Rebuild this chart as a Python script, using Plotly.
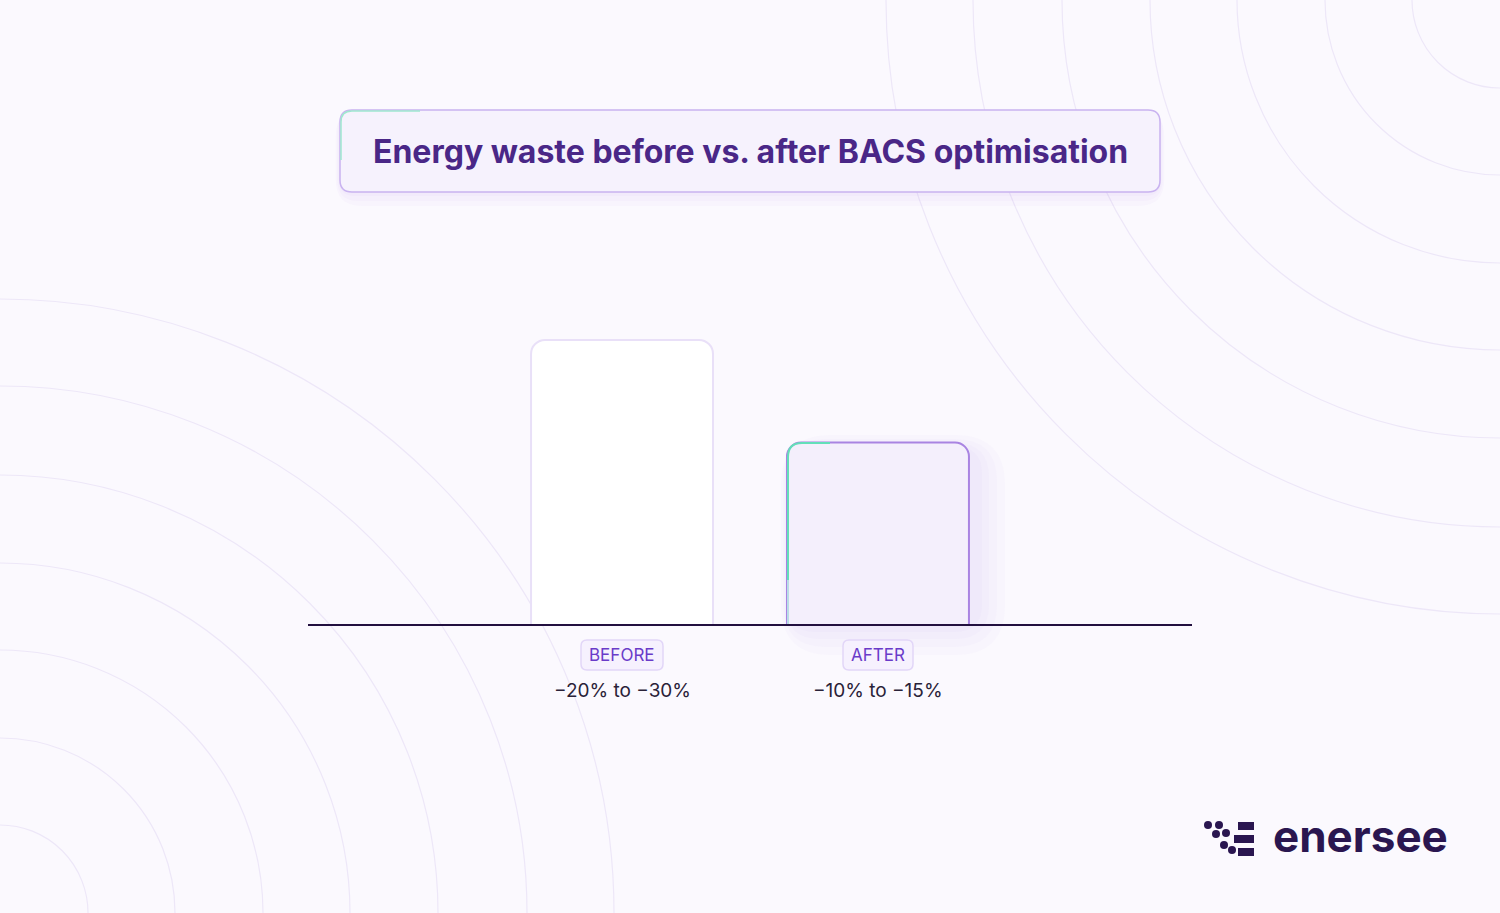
import plotly.graph_objects as go

categories = ["BEFORE", "AFTER"]
waste_index = [100, 64]
ranges = ["\u221220% to \u221230%", "\u221210% to \u221215%"]
title = "Energy waste before vs. after BACS optimisation"

W, H = 1500, 913
L, R, T, B = 308, 1192, 300, 625

def px(x): return (x - L) / (R - L)
def py(y): return (B - y) / (B - T)

fig = go.Figure()
fig.add_bar(x=[0, 1], y=waste_index, width=0.711,
            marker=dict(color=["#ffffff", "#f4effc"],
                        line=dict(color=["#e9e0f8", "#a984e2"], width=2),
                        cornerradius=14),
            hoverinfo="skip")

def rrect(x0, y0, x1, y1, r):
    X = lambda v: px(v); Y = lambda v: py(v)
    return (f"M {X(x0+r)},{Y(y0)} L {X(x1-r)},{Y(y0)} Q {X(x1)},{Y(y0)} {X(x1)},{Y(y0+r)} "
            f"L {X(x1)},{Y(y1-r)} Q {X(x1)},{Y(y1)} {X(x1-r)},{Y(y1)} L {X(x0+r)},{Y(y1)} "
            f"Q {X(x0)},{Y(y1)} {X(x0)},{Y(y1-r)} L {X(x0)},{Y(y0+r)} Q {X(x0)},{Y(y0)} {X(x0+r)},{Y(y0)} Z")

shapes = []
circ = "#ede7f8"
for r in [88, 175, 263, 350, 438, 527, 614]:
    for cx, cy in [(0, 913), (1500, 0)]:
        shapes.append(dict(type="circle", xref="paper", yref="paper",
                           x0=px(cx - r), x1=px(cx + r), y0=py(cy + r), y1=py(cy - r),
                           line=dict(color=circ, width=1.2), layer="below"))
for g in [30, 22, 14, 7]:
    shapes.append(dict(type="path", xref="paper", yref="paper",
                       path=rrect(790 - g * 0.3, 450 - g * 0.5, 975 + g, 625 + g, 20 + g),
                       fillcolor="rgba(175,130,235,0.035)", line=dict(width=0), layer="below"))
shapes.append(dict(type="line", xref="paper", yref="paper", x0=0, x1=1, y0=0, y1=0,
                   line=dict(color="#22103f", width=2)))
# teal accent on after bar left edge
X, Y = px, py
shapes.append(dict(type="path", xref="paper", yref="paper",
                   path=f"M {X(788)},{Y(580)} L {X(788)},{Y(457)} Q {X(788)},{Y(443)} {X(802)},{Y(443)} L {X(830)},{Y(443)}",
                   line=dict(color="#63dfb9", width=2)))
shapes.append(dict(type="line", xref="paper", yref="paper", x0=X(788), x1=X(788), y0=Y(624), y1=Y(580),
                   line=dict(color="#b9dde6", width=2)))

for g in [14, 9, 4]:
    shapes.append(dict(type="path", xref="paper", yref="paper",
                       path=rrect(340 - g * 0.3, 110, 1160 + g * 0.3, 192 + g, 12 + g),
                       fillcolor="rgba(170,130,230,0.04)", line=dict(width=0)))
shapes.append(dict(type="path", xref="paper", yref="paper", path=rrect(340, 110, 1160, 192, 12),
                   fillcolor="#f6f2fd", line=dict(color="#c9b3f0", width=1.5)))
shapes.append(dict(type="path", xref="paper", yref="paper",
                   path=f"M {X(341)},{Y(160)} L {X(341)},{Y(122)} Q {X(341)},{Y(111)} {X(352)},{Y(111)} L {X(420)},{Y(111)}",
                   line=dict(color="#9fe8cf", width=1.5)))
for cx, w in [(622, 82), (878, 70)]:
    shapes.append(dict(type="path", xref="paper", yref="paper",
                       path=rrect(cx - w / 2, 640, cx + w / 2, 670, 6),
                       fillcolor="#f6f1fe", line=dict(color="#e2d6f8", width=1.5)))
for (x0, x1, y) in [(1238, 1254, 826), (1234, 1254, 839), (1238, 1254, 852)]:
    shapes.append(dict(type="line", xref="paper", yref="paper", x0=px(x0), x1=px(x1),
                       y0=py(y), y1=py(y), line=dict(color="#2a1650", width=8)))
for (cx, cy) in [(1208, 825), (1219, 825), (1216, 834), (1226, 833), (1224, 845), (1232, 850)]:
    shapes.append(dict(type="circle", xref="paper", yref="paper", x0=px(cx - 4), x1=px(cx + 4),
                       y0=py(cy + 4), y1=py(cy - 4), fillcolor="#2a1650", line=dict(width=0)))

ann = [dict(text=f"<b>{title}</b>", xref="paper", yref="paper", x=px(750), y=py(151),
            xanchor="center", yanchor="middle",
            showarrow=False, font=dict(family="Inter", size=32, color="#4a2787"))]
for i, c in enumerate(categories):
    ann.append(dict(text=c, xref="x", yref="paper", x=i, y=py(655), xanchor="center", yanchor="middle",
                    showarrow=False, font=dict(family="Inter", size=17, color="#6a3bc9")))
    ann.append(dict(text=ranges[i], xref="x", yref="paper", x=i, y=py(690), xanchor="center",
                    yanchor="middle", showarrow=False,
                    font=dict(family="Inter", size=19, color="#2a2238")))
ann.append(dict(text="<b>enersee</b>", xref="paper", yref="paper", x=px(1271), y=py(836),
                xanchor="left", yanchor="middle",
                showarrow=False, font=dict(family="Inter", size=44, color="#2a1650")))

fig.update_layout(width=W, height=H, margin=dict(l=L, r=W - R, t=T, b=H - B),
                  paper_bgcolor="#fbf9fe", plot_bgcolor="rgba(0,0,0,0)",
                  showlegend=False, shapes=shapes, annotations=ann,
                  xaxis=dict(range=[-1.227, 2.227], visible=False, fixedrange=True),
                  yaxis=dict(range=[0, 114], visible=False, fixedrange=True))
fig.write_html("out.html", config={"displayModeBar": False},
               post_script="document.body.style.margin='0';document.body.style.background='#fbf9fe';")
